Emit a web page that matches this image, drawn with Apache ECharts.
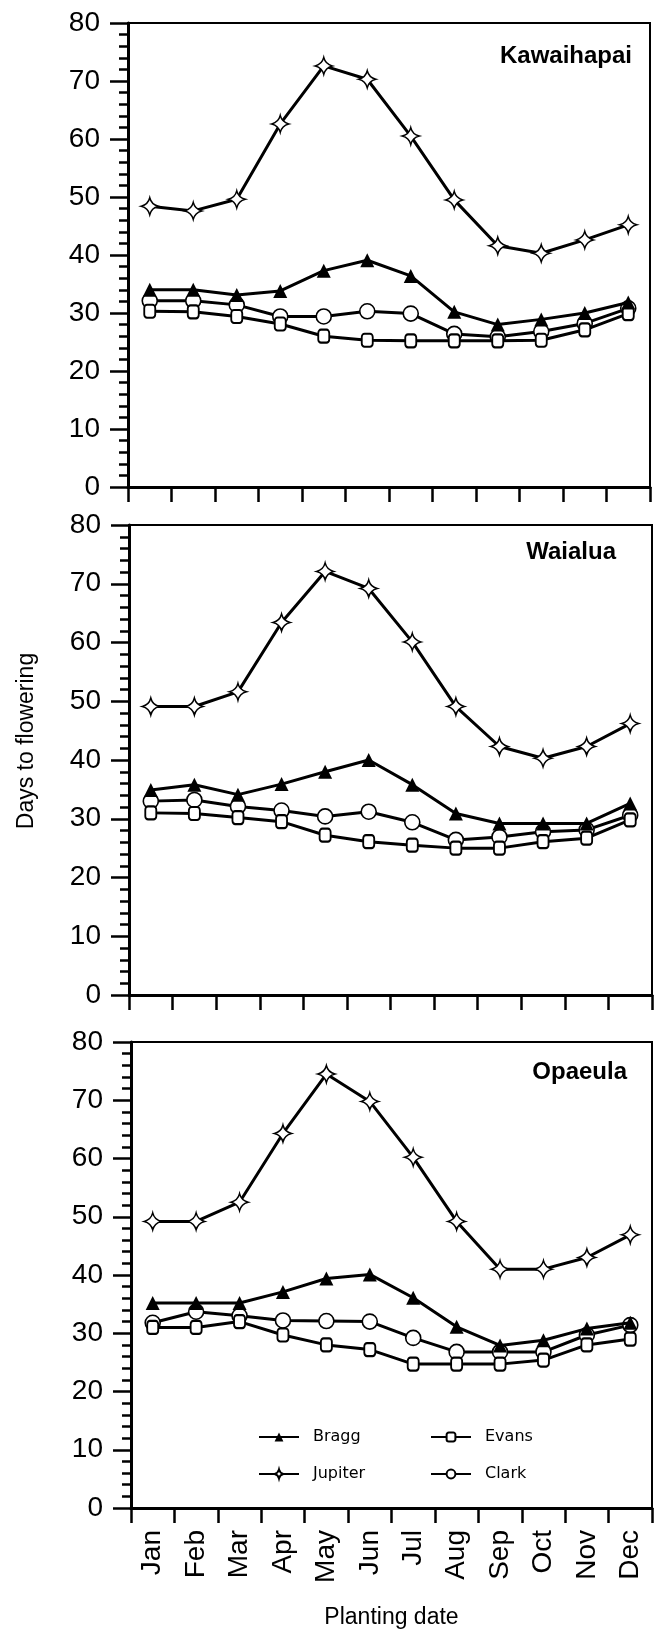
<!DOCTYPE html>
<html>
<head>
<meta charset="utf-8">
<script src="https://cdn.jsdelivr.net/npm/echarts@6/dist/echarts.min.js"></script>
<style>
html,body{margin:0;padding:0;background:#fff;}
#chart{width:658px;height:1637px;}
</style>
</head>
<body>
<div id="chart"></div>
<script>
// ---- data ----
const months = ['Jan','Feb','Mar','Apr','May','Jun','Jul','Aug','Sep','Oct','Nov','Dec'];
const yTicks = [0,10,20,30,40,50,60,70,80];
const seriesNames = ['Bragg','Evans','Jupiter','Clark'];
const siteNames = ['Kawaihapai','Waialua','Opaeula'];

const kawaihapaiBragg   = [34.0, 34.0, 33.1, 33.8, 37.3, 39.1, 36.4, 30.2, 28.0, 28.9, 30.0, 31.8];
const kawaihapaiJupiter = [48.4, 47.6, 49.6, 62.6, 72.6, 70.3, 60.5, 49.5, 41.6, 40.3, 42.6, 45.2];
const kawaihapaiEvans   = [30.3, 30.2, 29.4, 28.1, 26.0, 25.3, 25.2, 25.2, 25.2, 25.3, 27.1, 29.9];
const kawaihapaiClark   = [32.1, 32.1, 31.4, 29.4, 29.4, 30.3, 29.9, 26.4, 25.9, 26.8, 28.2, 30.8];

const waialuaBragg   = [34.9, 35.8, 34.1, 35.9, 38.0, 40.0, 35.8, 30.9, 29.2, 29.2, 29.2, 32.6];
const waialuaJupiter = [49.1, 49.1, 51.6, 63.4, 72.1, 69.2, 60.1, 49.1, 42.3, 40.3, 42.3, 46.2];
const waialuaEvans   = [31.0, 30.9, 30.2, 29.5, 27.2, 26.1, 25.5, 25.0, 25.0, 26.1, 26.7, 29.8];
const waialuaClark   = [33.0, 33.2, 32.1, 31.4, 30.4, 31.2, 29.4, 26.4, 26.9, 27.8, 28.1, 30.6];

const opaeulaBragg   = [35.2, 35.2, 35.2, 37.1, 39.4, 40.1, 36.1, 31.1, 27.9, 28.8, 30.8, 31.8];
const opaeulaJupiter = [49.2, 49.2, 52.5, 64.3, 74.5, 69.8, 60.2, 49.2, 41.0, 41.0, 43.0, 46.9];
const opaeulaEvans   = [31.0, 31.0, 32.0, 29.7, 28.0, 27.2, 24.7, 24.7, 24.7, 25.4, 28.0, 29.0];
const opaeulaClark   = [31.8, 33.7, 33.0, 32.2, 32.1, 32.0, 29.2, 26.8, 26.8, 26.8, 29.7, 31.4];

const panelData = [
  {Bragg: kawaihapaiBragg, Jupiter: kawaihapaiJupiter, Evans: kawaihapaiEvans, Clark: kawaihapaiClark},
  {Bragg: waialuaBragg, Jupiter: waialuaJupiter, Evans: waialuaEvans, Clark: waialuaClark},
  {Bragg: opaeulaBragg, Jupiter: opaeulaJupiter, Evans: opaeulaEvans, Clark: opaeulaClark}
];

// ---- layout / style ----
const grids = [
  {left:128, top:23, width:522, height:464},
  {left:129, top:525, width:523, height:470},
  {left:131, top:1042, width:521, height:466}
];
const titlePos = [[632,56],[616,552],[627,1072]];
const NUM_FONT = 'Liberation Sans, Arial, sans-serif';
const starPath = 'path://M0,-10 Q2,-2 10,0 Q2,2 0,10 Q-2,2 -10,0 Q-2,-2 0,-10 Z';

const symbolStyles = {
  Bragg:   {symbol:'triangle', symbolSize:[14,14], itemStyle:{color:'#000'}},
  Jupiter: {symbol:starPath, symbolSize:17, itemStyle:{color:'#fff', borderColor:'#000', borderWidth:1.5}},
  Evans:   {symbol:'roundRect', symbolSize:[11,13], itemStyle:{color:'#fff', borderColor:'#000', borderWidth:2}},
  Clark:   {symbol:'circle', symbolSize:15, itemStyle:{color:'#fff', borderColor:'#000', borderWidth:1.6}}
};
const drawOrder = ['Clark','Evans','Bragg','Jupiter'];

const legendText = {fontFamily:'DejaVu Sans', fontSize:16, color:'#000'};

const option = {
  animation:false,
  backgroundColor:'#fff',
  grid: grids.map(g => Object.assign({show:true, borderColor:'#000', borderWidth:2, containLabel:false, outerBoundsMode:'none'}, g)),
  xAxis: grids.map((g,i) => ({
    type:'category', gridIndex:i, data:months, boundaryGap:true,
    axisLine:{show:true, onZero:false, lineStyle:{color:'#000', width:3}},
    axisTick:{show:true, inside:false, length:15, alignWithLabel:false, lineStyle:{color:'#000', width:2.5}},
    axisLabel:{show:i===2, rotate:90, margin:22, fontSize:28, fontFamily:NUM_FONT, color:'#000'},
    splitLine:{show:false},
    name: i===2 ? 'Planting date' : '',
    nameLocation:'middle', nameGap:98,
    nameTextStyle:{fontSize:23, fontFamily:NUM_FONT, color:'#000'}
  })),
  yAxis: grids.map((g,i) => ({
    type:'value', gridIndex:i, min:yTicks[0], max:yTicks[yTicks.length-1], interval:yTicks[1]-yTicks[0],
    axisLine:{show:true, lineStyle:{color:'#000', width:3}},
    axisTick:{show:true, inside:false, length:18, lineStyle:{color:'#000', width:2.5}},
    minorTick:{show:true, splitNumber:5, length:9, lineStyle:{color:'#000', width:2.5}},
    axisLabel:{margin:28, fontSize:28, fontFamily:NUM_FONT, color:'#000'},
    splitLine:{show:false}
  })),
  legend: [
    {data:['Bragg','Jupiter'], orient:'vertical', left:253, top:1424, itemWidth:40, itemHeight:11, itemGap:21,
     selectedMode:false, lineStyle:{width:2},
     textStyle:Object.assign({padding:[0,0,0,9]}, legendText)},
    {data:['Evans','Clark'], orient:'vertical', left:425, top:1424, itemWidth:40, itemHeight:11, itemGap:21,
     selectedMode:false, lineStyle:{width:2},
     textStyle:Object.assign({padding:[0,0,0,9]}, legendText)}
  ],
  series: [],
  graphic: []
};

panelData.forEach((pd, i) => {
  drawOrder.forEach(name => {
    const st = symbolStyles[name];
    option.series.push({
      type:'line', name:name, xAxisIndex:i, yAxisIndex:i, data:pd[name],
      symbol:st.symbol, symbolSize:st.symbolSize, showAllSymbol:true,
      itemStyle:st.itemStyle,
      lineStyle:{color:'#000', width:3},
      emphasis:{disabled:true}, z: 2 + drawOrder.indexOf(name)
    });
  });
  option.graphic.push({
    type:'text', x:titlePos[i][0], y:titlePos[i][1],
    style:{text:siteNames[i], font:'bold 24px Liberation Sans, Arial, sans-serif', fill:'#000', textAlign:'right', textVerticalAlign:'middle'}
  });
});

option.graphic.push({
  type:'text', x:27, y:741, rotation:Math.PI/2,
  style:{text:'Days to flowering', font:'23px Liberation Sans, Arial, sans-serif', fill:'#000', textAlign:'center', textVerticalAlign:'middle'}
});

const chart = echarts.init(document.getElementById('chart'), null, {renderer:'canvas', width:658, height:1637});
chart.setOption(option);
</script>
</body>
</html>
